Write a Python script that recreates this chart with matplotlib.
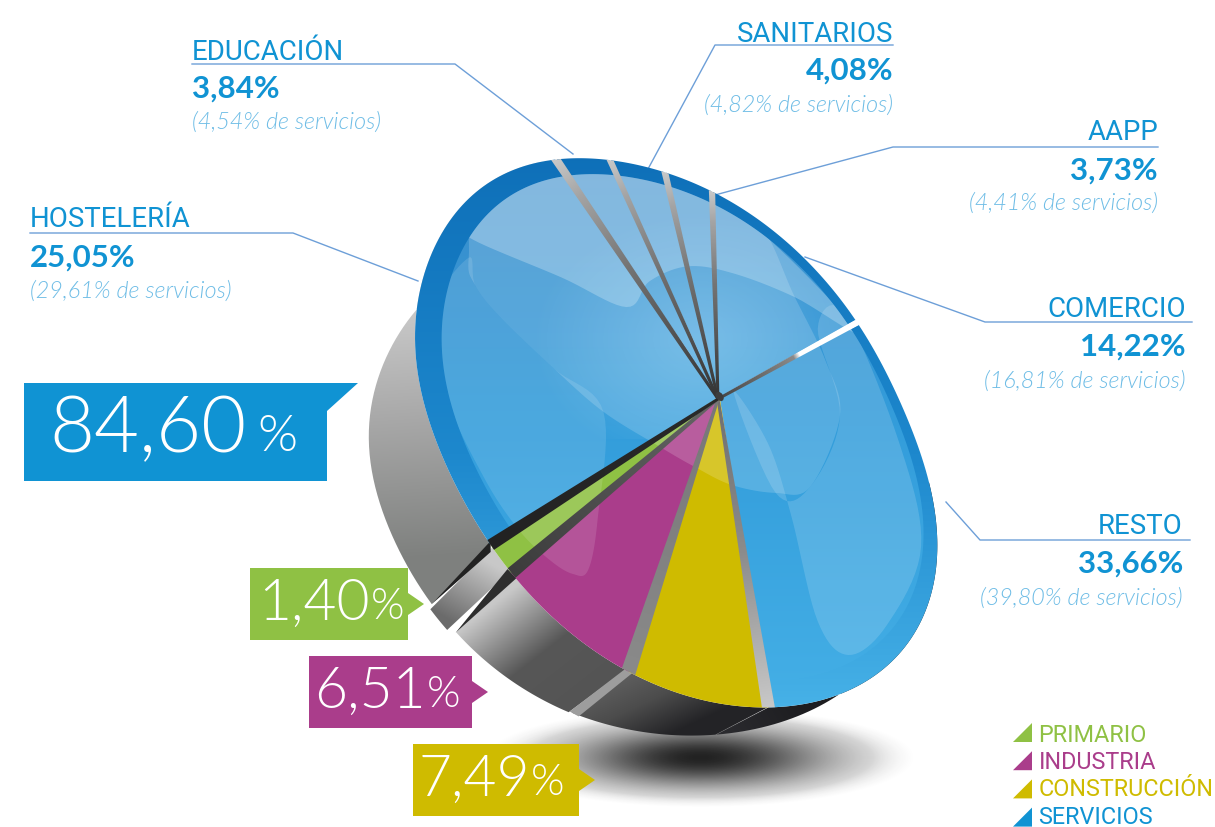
import numpy as np
import matplotlib
matplotlib.use("Agg")
import matplotlib.pyplot as plt
from matplotlib.patches import Polygon
from matplotlib.colors import to_rgb

# ---- data
labels = ["HOSTELERÍA", "EDUCACIÓN", "SANITARIOS", "AAPP", "COMERCIO", "RESTO"]
serv_vals = [25.05, 3.84, 4.08, 3.73, 14.22, 33.66]
serv_txt = ["25,05%", "3,84%", "4,08%", "3,73%", "14,22%", "33,66%"]
serv_sub = ["(29,61% de servicios)", "(4,54% de servicios)", "(4,82% de servicios)",
            "(4,41% de servicios)", "(16,81% de servicios)", "(39,80% de servicios)"]
other_names = ["CONSTRUCCIÓN", "INDUSTRIA", "PRIMARIO"]
other_vals = [7.49, 6.51, 1.40]
other_txt = ["7,49", "6,51", "1,40"]
total_txt = "84,60"

BLUE, GREEN, PURPLE, YELLOW = "#1093d3", "#8fc144", "#aa3d8b", "#cfbb00"
SUBC = "#6fbde6"
LINEC = "#6d9fd8"
LIGHT = 300

fig = plt.figure(figsize=(12.15, 8.28), dpi=100)
ax = fig.add_axes([0, 0, 1, 1])
ax.set_xlim(0, 1215); ax.set_ylim(828, 0); ax.axis("off"); ax.autoscale(False)

# ---- projection of the unit pie to the page (homography calibrated on rim)
vals = serv_vals + other_vals
cum = np.concatenate([[0], np.cumsum(vals)])
calib_t = list(cum) + [5.5, 12.7, 67, 78]
calib_x = [492, 550, 604, 678, 727, 847, 765, 632, 520, 492, 440, 415, 946, 875]
calib_y = [534, 157, 160, 182, 208, 305, 712, 668, 578, 534, 440, 314, 551, 680]
calib_w = [2.5] * len(cum) + [1, 1, .5, 1]
CX, CY = 718, 400

def fit_h():
    rows = []
    def add(u, v, x, y, w=1.0):
        x = (x - 700) / 300; y = (y - 400) / 300
        rows.append(w * np.array([u, v, 1, 0, 0, 0, -x*u, -x*v, -x]))
        rows.append(w * np.array([0, 0, 0, u, v, 1, -y*u, -y*v, -y]))
    for t, x, y, w in zip(calib_t, calib_x, calib_y, calib_w):
        a = 2*np.pi*t/100
        add(np.cos(a), np.sin(a), x, y, w)
    add(0, 0, CX, CY, 6.0)
    return np.linalg.svd(np.array(rows))[2][-1].reshape(3, 3)
H = fit_h()

def bulge(phi, c, width, amp):
    d = (phi - c + np.pi) % (2*np.pi) - np.pi
    return amp * np.exp(-(d/width)**2)

def P(t, r=1.0):
    t = np.atleast_1d(t).astype(float)
    a = 2*np.pi*t/100
    v = np.vstack([r*np.cos(a), r*np.sin(a), np.ones_like(a)])
    o = H @ v
    x = o[0]/o[2]*300 + 700; y = o[1]/o[2]*300 + 400
    phi = np.arctan2(y - CY, x - CX)
    s = (1 + bulge(phi, np.radians(-135), .35, .04) + bulge(phi, np.radians(-165), .45, .045)
         + bulge(phi, np.radians(42), .5, .10))
    return np.column_stack([CX + (x - CX)*s, CY + (y - CY)*s])

# ---- side extrusion
sa = np.array([[492, 531, -51, 58], [628, 666, -67, 43], [762, 715, -50, 26], [415, 314, -45, 83]], float)
M = np.column_stack([sa[:, 0], sa[:, 1], np.ones(4)])
DX = np.linalg.lstsq(M, sa[:, 2], rcond=None)[0]
DY = np.linalg.lstsq(M, sa[:, 3], rcond=None)[0]
def B(p, shift=(0, 0)):
    m = np.column_stack([p[:, 0], p[:, 1], np.ones(len(p))])
    return p + np.column_stack([m @ DX + shift[0], m @ DY + shift[1]])

def grad(poly, p0, p1, stops, zorder=2):
    poly = np.asarray(poly)
    x0, y0 = np.floor(poly.min(0)) - 1
    x1, y1 = np.ceil(poly.max(0)) + 1
    xs = np.arange(x0, x1 + 1); ys = np.arange(y0, y1 + 1)
    X, Y = np.meshgrid(xs, ys)
    d = np.array(p1, float) - np.array(p0, float)
    s = ((X - p0[0])*d[0] + (Y - p0[1])*d[1]) / (d @ d)
    pos = [a for a, _ in stops]
    cc = np.array([to_rgb(c) for _, c in stops])
    img = np.dstack([np.interp(s, pos, cc[:, i]) for i in range(3)])
    im = ax.imshow(img, extent=(x0-.5, x1+.5, y1+.5, y0-.5), origin="upper",
                   aspect="auto", zorder=zorder, interpolation="bilinear")
    patch = Polygon(poly, closed=True, transform=ax.transData, fc="none", ec="none")
    ax.add_patch(patch)
    im.set_clip_path(patch)
    return im

def wedge_poly(t0, t1, r0=0.0, r1=1.0, n=80):
    ts = np.linspace(t0, t1, n)
    outer = P(ts, r1)
    inner = P(ts[::-1], r0) if r0 > 0 else P(np.array([0.0]), 0.0)
    return np.vstack([outer, inner])

def smooth(pts, n=14):
    p = np.array(pts, float)
    out = []
    N = len(p)
    for i in range(N):
        a, b, c, d = p[(i-1) % N], p[i], p[(i+1) % N], p[(i+2) % N]
        for u in np.linspace(0, 1, n, endpoint=False):
            out.append(0.5*((2*b) + (c-a)*u + (2*a-5*b+4*c-d)*u*u + (3*b-a-3*c+d)*u**3))
    return np.array(out)
def Z(pts):
    p = np.array(pts, float)
    return np.column_stack([370 + p[:, 0]/2.613, 140 + p[:, 1]/2.529])

# ---- shadow
X, Y = np.meshgrid(np.arange(440, 960), np.arange(690, 828))
R = np.sqrt(((X-700)/215)**2 + ((Y-758)/50)**2)
rgba = np.zeros(X.shape + (4,)); rgba[..., :3] = 0.13
rgba[..., 3] = np.exp(-(R/.62)**2) * np.clip((1 - R)*5, 0, 1)
ax.imshow(rgba, extent=(440, 960, 828, 690), aspect="auto", zorder=1, interpolation="bilinear")

# ---- sides
c0, c1, c2, c3, c4, c5, c6, c7, c8, c9 = cum
def side(t0, t1, shift, p0, p1, stops, z=3):
    top = P(np.linspace(t0, t1, 60))
    bot = B(top, shift)
    return grad(np.vstack([top, bot[::-1]]), p0, p1, stops, zorder=z)

side(c5 + 12, c6, (0, 0), (800, 700), (720, 745), [(0, "#1d1d20"), (1, "#2c2c30")])
side(c0, 24, (0, 0), (400, 250), (420, 560), [(0, "#dcdcdc"), (.55, "#a8a8a8"), (1, "#7e807e")])
side(c6 + .05, c7 - .15, (0, 0), (620, 680), (650, 745), [(0, "#5e5e5e"), (.45, "#4c4c4c"), (1, "#232326")])
side(c7 + .15, c8 - .1, (3, 2), (500, 600), (570, 690), [(0, "#c8c8c8"), (.6, "#575757"), (1, "#555555")])
side(c8 + .1, c9 - .1, (-3, 3), (490, 565), (455, 625), [(0, "#c8c8c8"), (1, "#6b6b6b")])
# side walls between slices
pi, pj = P(c7)[0], B(P(c7), (3, 2))[0]
ax.add_patch(Polygon([pi + (3, 2), pi - (3, 3), pj + (-2, -2), pj + (7, 3)], fc="#9d9d9d", ec="none", zorder=4))
pi, pj = P(c8)[0], B(P(c8), (3, 2))[0]
ax.add_patch(Polygon([pi + (-4, -4), pi + (5, 5), pj + (1, 2)], fc="#2e2e2e", ec="none", zorder=4))
pi, pj = P(c0)[0], B(P(c0))[0]
ax.add_patch(Polygon([pi + (0, -4), pi + (0, 7), pj], fc="#222222", ec="none", zorder=4))

# ---- top faces
RIM = 0.93
FACE = [(0, "#3a8bca"), (.5, "#339ddb"), (1, "#44afe6")]
RIMC = [(0, "#0e6fb8"), (.55, "#1d88cd"), (1, "#46b1e7")]
gap = 0.06
for i in range(6):
    a, b = cum[i] + gap, cum[i+1] - gap
    if i == 4: b -= 0.14
    if i == 5: a += 0.14
    grad(wedge_poly(a, b), (0, 150), (0, 705), RIMC, zorder=5)
    grad(wedge_poly(a, b, r1=RIM), (0, 150), (0, 705), FACE, zorder=5)
for i, col in zip([6, 7, 8], [YELLOW, PURPLE, GREEN]):
    ax.add_patch(Polygon(wedge_poly(cum[i], cum[i+1]), fc=col, ec="none", zorder=5))

# ---- sheens
disc = Polygon(P(np.linspace(0, 100, 300), RIM), transform=ax.transData, fc="none", ec="none")
ax.add_patch(disc)
sheens = [
    ([(258,300),(275,370),(340,450),(480,580),(610,690),(760,780),(850,830),(945,875),(1060,895),(1150,880),(1228,700),(1190,560),(1110,400),(1000,190),(800,90),(600,70),(300,110)], .17),
    ([(255,220),(300,140),(400,95),(600,75),(850,120),(1050,260),(1272,487),(1110,400),(950,340),(830,322),(730,360),(670,425),(500,350),(270,255)], .26),
    ([(170,430),(200,650),(300,860),(390,990),(470,1065),(530,1100),(570,1090),(595,960),(610,690),(480,580),(340,450),(275,370),(258,300)], .12),
    ([(950,640),(1040,770),(1100,950),(1170,1220),(1250,1305),(1350,1230),(1440,1030),(1380,760),(1240,440),(1170,480),(1228,700),(1150,880),(1060,895)], .15),
]
for pts, al in sheens:
    s = Polygon(smooth(Z(pts), 10), fc="white", ec="none", alpha=al, zorder=6)
    ax.add_patch(s)
    s.set_clip_path(disc)

# glow towards the hub
X, Y = np.meshgrid(np.arange(520, 860), np.arange(180, 440))
R = np.sqrt(((X-700)/170)**2 + ((Y-340)/130)**2)
glow = np.ones(X.shape + (4,))
glow[..., 0] = .75; glow[..., 1] = .92; glow[..., 2] = 1
glow[..., 3] = np.clip(1 - R, 0, 1) * .32
g = ax.imshow(glow, extent=(520, 860, 440, 180), aspect="auto", zorder=6)
serv_clip = Polygon(wedge_poly(c0, c5 - .1, r1=RIM), transform=ax.transData, fc="none", ec="none")
ax.add_patch(serv_clip)
g.set_clip_path(serv_clip)

# ---- walls between slices, from centre to rim
def wall(t, w, stops, rmax=1.0, z=7, hub=1.4):
    rim = P(t, rmax)[0]
    u = rim - np.array([CX, CY], float)
    n = np.array([-u[1], u[0]]) / np.hypot(*u) * hub
    e = P(t + w, rmax)[0] - P(t - w, rmax)[0]
    if n @ e > 0:
        poly = np.vstack([[CX, CY] - n, P(t - w, rmax), P(t + w, rmax), [CX, CY] + n])
    else:
        poly = np.vstack([[CX, CY] + n, P(t - w, rmax), P(t + w, rmax), [CX, CY] - n])
    grad(poly, rim, (CX, CY), stops, zorder=z)

metal = [(0, "#c8c8c8"), (.15, "#a4a4a4"), (.45, "#747474"), (1, "#333333")]
wall(c1, .34, metal); wall(c2, .26, metal); wall(c3, .28, metal); wall(c4, .26, metal)
wall(c5, .22, [(0, "#ffffff"), (.42, "#ffffff"), (.46, "#8a8a8a"), (1, "#444444")])
wall(c6, .38, [(0, "#c8c8c8"), (.5, "#8c8c8c"), (1, "#6f6f6f")])
wall(c7, .34, [(0, "#8a8a8a"), (1, "#777777")])
wall(c8, .25, [(0, "#3c3c3c"), (1, "#666666")])
wall(c0, .24, [(0, "#222222"), (1, "#2a2a2a")])
ax.add_patch(Polygon(P(np.linspace(0, 100, 12), .018), fc="#3d3d3d", ec="none", zorder=8))

# ---- labels
def label(name, pct, sub, x, ha, yn, yp, ys, seg):
    ax.text(x, yn + 3, name, ha=ha, va="center", color=BLUE, fontsize=19.9, family="Roboto", zorder=10)
    ax.text(x, yp + 3, pct, ha=ha, va="center", color=BLUE, fontsize=22.5, family="Lato", weight="bold", zorder=10)
    ax.text(x, ys + 2, sub, ha=ha, va="center", color=SUBC, fontsize=16.8, family="Lato", weight=LIGHT,
            style="italic", zorder=10)
    sx, sy = zip(*seg)
    ax.plot(sx, sy, color=LINEC, lw=1.0, zorder=4)

lab_x = [30, 192, 893, 1158, 1186, 1183]
lab_ha = ["left", "left", "right", "right", "right", "right"]
lab_y = [(217, 255, 289), (49, 86, 120), (31, 68, 103), (130, 168, 201), (307, 344, 379), (524, 561, 596)]
leaders = [[(30, 234), (293, 234), (418, 282)], [(192, 65), (455, 65), (573, 155)],
           [(893, 46), (715, 46), (648, 170)], [(1158, 148), (893, 148), (715, 196)],
           [(1192, 323), (985, 323), (805, 258)], [(1190, 541), (980, 541), (946, 503)]]
for i in range(6):
    label(labels[i], serv_txt[i], serv_sub[i], lab_x[i], lab_ha[i], *lab_y[i], leaders[i])

# ---- callouts
ax.add_patch(Polygon([(24, 384), (358, 384), (327, 412), (327, 482), (24, 482)], fc=BLUE, ec="none", zorder=9))
ax.text(49, 430, total_txt, color="white", fontsize=56, family="Lato", weight=LIGHT, va="center", ha="left", zorder=10)
ax.text(257, 437, "%", color="white", fontsize=37, family="Lato", weight=LIGHT, va="center", ha="left", zorder=10)

boxes = [(413, 579, 745, 817, YELLOW, 418), (309, 472, 657, 729, PURPLE, 314), (250, 408, 569, 641, GREEN, 258)]
for (x0, x1, y0, y1, col, tx), txt in zip(boxes, other_txt):
    ym = (y0 + y1)/2
    ax.add_patch(Polygon([(x0, y0), (x1, y0), (x1, ym-11), (x1+16, ym), (x1, ym+11), (x1, y1), (x0, y1)],
                         fc=col, ec="none", zorder=9))
    t = ax.text(tx, ym-1, txt, color="white", fontsize=41, family="Lato", weight=LIGHT, va="center", ha="left", zorder=10)
    fig.canvas.draw()
    bb = t.get_window_extent().transformed(ax.transData.inverted())
    ax.text(bb.x1 + 1, ym+3, "%", color="white", fontsize=31, family="Lato", weight=LIGHT, va="center", ha="left", zorder=10)

# ---- legend
leg_names = ["PRIMARIO", "INDUSTRIA", "CONSTRUCCIÓN", "SERVICIOS"]
leg_cols = [GREEN, PURPLE, YELLOW, BLUE]
for i, (n, c) in enumerate(zip(leg_names, leg_cols)):
    y = 743 + 28.2*i
    ax.add_patch(Polygon([(1013, y), (1032, y-19), (1032, y)], fc=c, ec="none", zorder=9))
    ax.text(1038.5, 742 + 27.2*i, n, color=c, fontsize=16.8, family="Roboto", va="baseline", ha="left", zorder=10)

fig.savefig("out.png", dpi=100)
